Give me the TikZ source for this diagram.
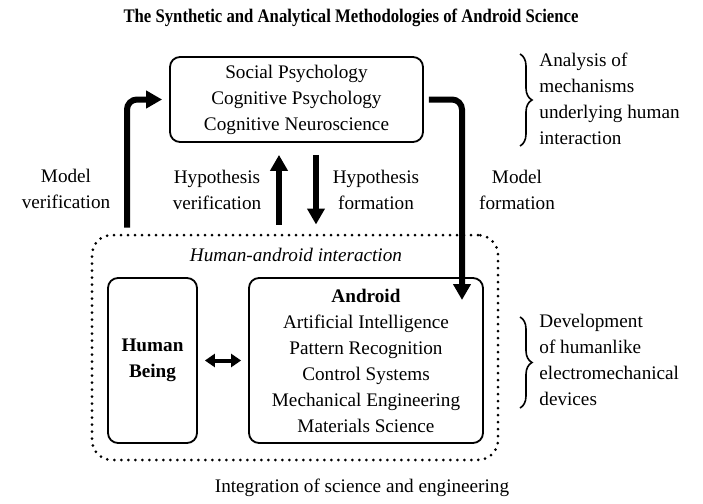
\documentclass[tikz,border=0pt]{standalone}
\usepackage{fontspec}
\setmainfont{Liberation Serif}
\usetikzlibrary{arrows.meta,decorations.pathreplacing}

\tikzset{
  box/.style={draw, line width=0.9pt, rounded corners=5pt, align=center, inner sep=0pt},
  dotbox/.style={draw, line width=1.5pt, line cap=round, dash pattern=on 0pt off 3.5pt, rounded corners=10pt, inner sep=0pt},
  bigarrow/.style={line width=3pt, -{Triangle[length=8pt,width=8.5pt]}},
  twoway/.style={line width=2pt, {Triangle[length=5pt,width=6.5pt]}-{Triangle[length=5pt,width=6.5pt]}},
  brc/.style={decorate, decoration={brace, amplitude=6pt}, line width=0.8pt},
  lbl/.style={align=center},
  note/.style={align=left, anchor=west, inner sep=0pt},
}

\begin{document}
\begin{tikzpicture}[x=0.5pt, y=-0.5pt, font=\fontsize{9.6}{13}\selectfont]
\useasboundingbox (0,0) rectangle (703,504);

\node[font=\fontsize{9.6}{13}\selectfont\bfseries] (title) at (351,18) {\scalebox{0.87}[1]{The Synthetic and Analytical Methodologies of Android Science}};

\node[box, minimum width=126.5pt, minimum height=42.5pt] (top) at (296.5,99.5) {Social Psychology\\Cognitive Psychology\\Cognitive Neuroscience};

\node[dotbox, minimum width=203pt, minimum height=112.5pt] (hai) at (295,347.5) {};
\node[font=\fontsize{9.6}{13}\selectfont\itshape] (hailbl) at (296,255) {Human-android interaction};

\node[box, minimum width=44.5pt, minimum height=82.5pt] (human) at (152.5,360.5) {\textbf{Human}\\\textbf{Being}};
\node[box, minimum width=117pt, minimum height=82.5pt] (android) at (366,360.5) {\textbf{Android}\\Artificial Intelligence\\Pattern Recognition\\Control Systems\\Mechanical Engineering\\Materials Science};

\coordinate (mv) at (127,0);
\coordinate (hv) at (279,0);
\coordinate (hf) at (316,0);
\coordinate (mf) at (462,300);

\draw[bigarrow, rounded corners=5pt, shorten <=3pt, shorten >=3.5pt] (hai.north -| mv) |- (top.west);
\draw[bigarrow, rounded corners=5pt, shorten <=2.5pt] (top.east) -| (mf);
\draw[bigarrow, shorten <=4.5pt, shorten >=6pt] (hai.north -| hv) -- (top.south -| hv);
\draw[bigarrow, shorten <=6pt, shorten >=4.5pt] (top.south -| hf) -- (hai.north -| hf);
\draw[twoway, shorten <=3.5pt, shorten >=3.5pt] (human) -- (android);

\node[lbl] (mvlbl) at (66,189) {Model\\verification};
\node[lbl] (hvlbl) at (217,190) {Hypothesis\\verification};
\node[lbl] (hflbl) at (376,190) {Hypothesis\\formation};
\node[lbl] (mflbl) at (517,190) {Model\\formation};

\node[note] (ana) at (539,99) {Analysis of\\mechanisms\\underlying human\\interaction};
\draw[brc] (520,54) -- (520,146);
\node[note] (dev) at (539,360) {Development\\of humanlike\\electromechanical\\devices};
\draw[brc] (520,317) -- (520,408);

\node (caption) at (362,488) {Integration of science and engineering};
\end{tikzpicture}
\end{document}
